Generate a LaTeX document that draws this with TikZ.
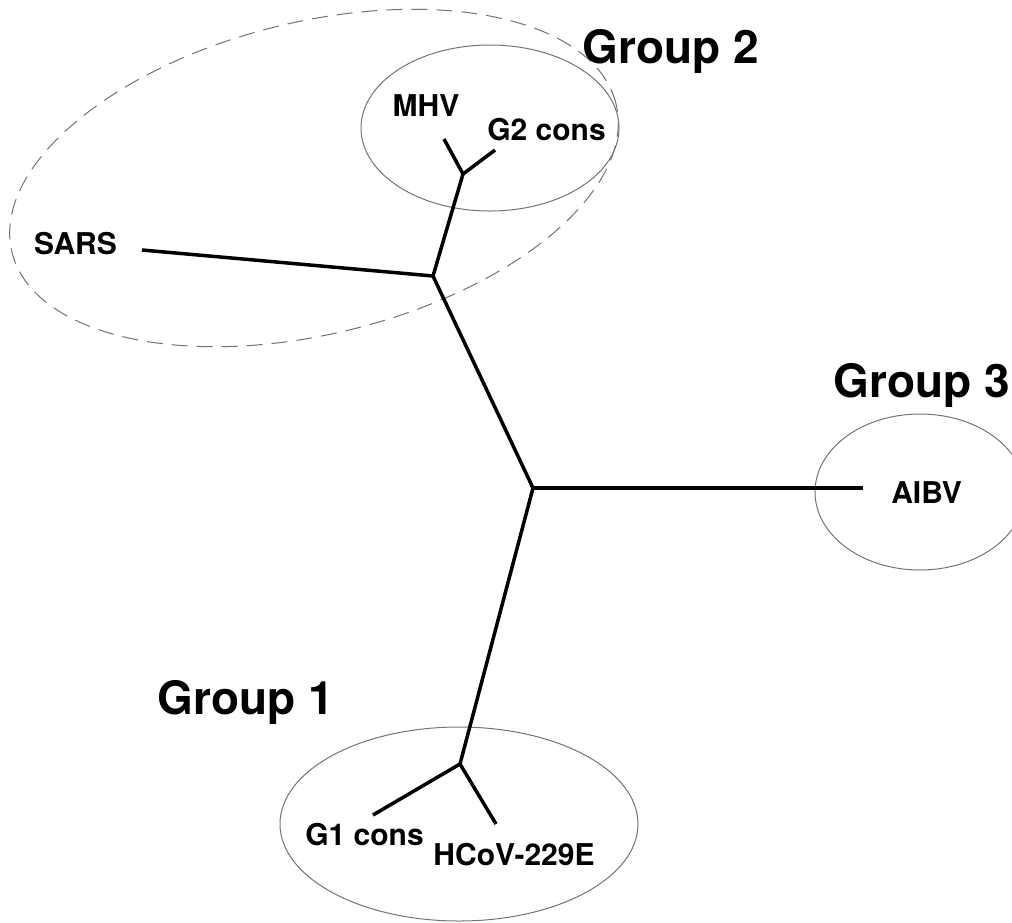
\documentclass[tikz,border=0pt]{standalone}
\usepackage{fontspec}
\setmainfont{TeX Gyre Heros}
\usetikzlibrary{shapes.geometric}

\tikzset{
  branch/.style={line width=3.5pt, line join=round},
  cluster/.style={ellipse, draw=black!55, line width=1pt, inner sep=0pt},
  leaf/.style={font=\fontsize{30}{36}\selectfont\bfseries, anchor=base, inner sep=0pt},
  grouplabel/.style={font=\fontsize{46}{54}\selectfont\bfseries, anchor=base, inner sep=0pt}
}

\begin{document}
\begin{tikzpicture}[x=1pt,y=-1pt]
\useasboundingbox (0,0) rectangle (1012,922);

% groups
\node[cluster, dash pattern=on 16pt off 9pt, minimum width=622pt, minimum height=312pt, rotate=13.8] (g2out) at (314,178) {};
\node[cluster, minimum width=258pt, minimum height=166pt] (g2) at (490,128) {};
\node[cluster, minimum width=210pt, minimum height=156pt] (g3) at (920,492) {};
\node[cluster, minimum width=358pt, minimum height=194pt] (g1) at (459,824) {};

\node[grouplabel] (lg2) at (671,63) {Group 2};
\node[grouplabel, anchor=base east] (lg3) at (1010,397) {Group 3};
\node[grouplabel] (lg1) at (246,714) {Group 1};

% tree
\coordinate (c) at (533,488);
\coordinate (u) at (433,276);
\coordinate (j2) at (463,174);
\coordinate (j1) at (460,764);
\coordinate (tsars) at (142,250);
\coordinate (tmhv) at (444,139);
\coordinate (tg2) at (495,150);
\coordinate (taibv) at (863,488);
\coordinate (tg1) at (373,815);
\coordinate (thcov) at (496,824);

\draw[branch] (c) -- (u);
\draw[branch] (u) -- (tsars);
\draw[branch] (u) -- (j2);
\draw[branch] (j2) -- (tmhv);
\draw[branch] (j2) -- (tg2);
\draw[branch] (c) -- (taibv);
\draw[branch] (c) -- (j1);
\draw[branch] (j1) -- (tg1);
\draw[branch] (j1) -- (thcov);

% leaves
\node[leaf] (sars) at (75.5,254) {SARS};
\node[leaf] (mhv) at (426,116) {MHV};
\node[leaf] (g2cons) at (546.5,140) {G2 cons};
\node[leaf] (aibv) at (926.5,503) {AIBV};
\node[leaf] (g1cons) at (364.5,845) {G1 cons};
\node[leaf] (hcov) at (514,865) {HCoV-229E};
\end{tikzpicture}
\end{document}
